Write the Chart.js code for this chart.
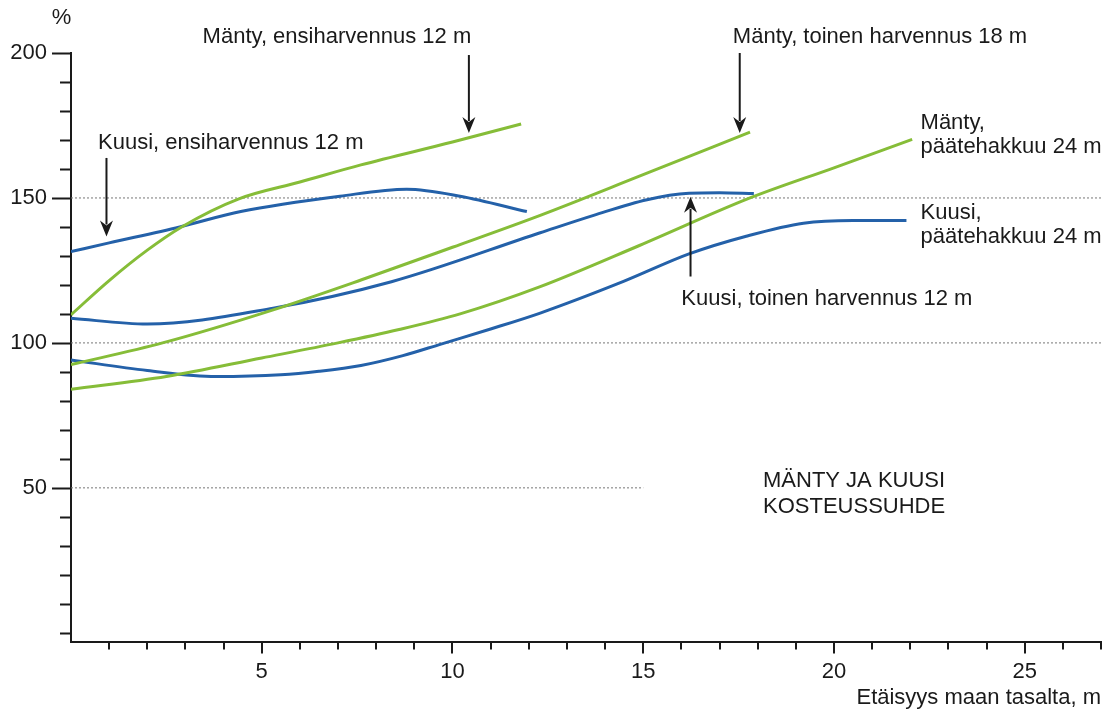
<!DOCTYPE html>
<html>
<head>
<meta charset="utf-8">
<script src="https://cdn.jsdelivr.net/npm/chart.js@4.4.1/dist/chart.umd.min.js"></script>
<style>
  html, body { margin: 0; padding: 0; background: #fff; }
  #wrap { width: 1110px; height: 715px; }
</style>
</head>
<body>
<div id="wrap"><canvas id="chart1"></canvas></div>
<script>
// Etäisyys maan tasalta (m) ja kosteussuhde (%)
const mantyEnsiX = [0, 1, 2, 2.9, 4.4, 6, 7.6, 10, 11.8];
const mantyEnsiY = [109.7, 121.5, 132, 140, 149.7, 155.5, 161.4, 169.3, 175.5];

const kuusiEnsiX = [0, 1, 2.85, 4.45, 7.05, 8.8, 10.2, 11.95];
const kuusiEnsiY = [131.5, 134.5, 140, 145.3, 150.6, 153, 150.6, 145.3];

const mantyToinenX = [0, 2.4, 5.3, 7.6, 10, 12.3, 14.9, 17.8];
const mantyToinenY = [92.5, 100, 111.4, 121.7, 133, 144, 157.5, 172.7];

const kuusiToinenX = [0, 2, 5.3, 8.4, 12.3, 13.7, 15.1, 16.2, 17, 17.9];
const kuusiToinenY = [108.5, 106.5, 112, 121.1, 138, 144, 149.4, 151.6, 151.8, 151.5];

const mantyPaateX = [0, 2.5, 5, 7, 8.6, 10.2, 12.3, 14.9, 17.8, 20, 22.05];
const mantyPaateY = [84, 88.4, 94.8, 100, 104.6, 110, 119.4, 133.6, 150, 160.4, 170.2];

const kuusiPaateX = [0, 2, 3.8, 5.5, 6.5, 7.6, 8.7, 9.7, 11, 12.3, 14.5, 16.2, 17.7, 19.2, 20.5, 21.9];
const kuusiPaateY = [94.1, 90.5, 88.4, 89, 90.2, 92.2, 95.6, 99.6, 104.8, 110.3, 121.3, 130.7, 136.8, 141.3, 142.2, 142.2];

// pisteviivat
const refLevels = [50, 100, 150];
const refEnds = [15, 27, 27];

const xTicks = [];
for (let v = 0; v <= 27; v++) xTicks.push(v);
const xLabelled = [5, 10, 15, 20, 25];
const yTicks = [];
for (let v = 0; v <= 200; v += 10) yTicks.push(v);
const yLabelled = [50, 100, 150, 200];

const GREEN = '#86bd38';
const BLUE = '#2461a9';
const INK = '#1a1a1a';
const FONT = '"Liberation Sans", Arial, Helvetica, sans-serif';

// tekstit ja nuolet datakoordinaateissa
const notes = [
  { text: '%', x: -0.25, y: 212, align: 'center' },
  { text: 'Mänty, ensiharvennus 12 m', x: 3.45, y: 205.5 },
  { text: 'Kuusi, ensiharvennus 12 m', x: 0.71, y: 169 },
  { text: 'Mänty, toinen harvennus 18 m', x: 17.35, y: 205.5 },
  { text: 'Mänty,', x: 22.27, y: 175.9 },
  { text: 'päätehakkuu 24 m', x: 22.27, y: 167.6 },
  { text: 'Kuusi,', x: 22.27, y: 144.8 },
  { text: 'päätehakkuu 24 m', x: 22.27, y: 136.6 },
  { text: 'Kuusi, toinen harvennus 12 m', x: 16.0, y: 115.2 },
  { text: 'MÄNTY JA KUUSI', x: 18.14, y: 52.4 },
  { text: 'KOSTEUSSUHDE', x: 18.14, y: 43.4 }
];
const arrows = [
  { x: 10.43, from: 199.3, to: 172.4 },
  { x: 0.93, from: 163.8, to: 136.7 },
  { x: 17.53, from: 200, to: 172.4 },
  { x: 16.24, from: 122.9, to: 150.4 }
];

const pairs = (xs, ys) => xs.map((x, i) => ({ x, y: ys[i] }));

const curve = (label, xs, ys, color) => ({
  label,
  data: pairs(xs, ys),
  borderColor: color,
  borderWidth: 3,
  cubicInterpolationMode: 'monotone',
  pointRadius: 0,
  fill: false,
  order: 1
});

const refSets = refLevels.map((v, i) => ({
  label: 'ref' + v,
  data: [{ x: 0, y: v }, { x: refEnds[i], y: v }],
  borderColor: '#777',
  borderWidth: 1,
  borderDash: [2, 2],
  pointRadius: 0,
  tension: 0,
  order: 10
}));

const tickMarks = {
  id: 'tickMarks',
  afterDraw(chart) {
    const { ctx, scales: { x, y } } = chart;
    ctx.save();
    ctx.strokeStyle = INK;
    ctx.lineWidth = 2;
    ctx.beginPath();
    yTicks.forEach(v => {
      const py = Math.round(y.getPixelForValue(v)) + 0.5;
      const len = yLabelled.includes(v) ? 19 : 11;
      ctx.moveTo(x.left - len, py);
      ctx.lineTo(x.left, py);
    });
    xTicks.forEach(v => {
      if (v === 0) return;
      const px = Math.round(x.getPixelForValue(v));
      const len = xLabelled.includes(v) ? 12 : 8;
      ctx.moveTo(px, y.bottom);
      ctx.lineTo(px, y.bottom + len);
    });
    ctx.stroke();
    ctx.restore();
  }
};

const notesPlugin = {
  id: 'notes',
  afterDraw(chart) {
    const { ctx, scales: { x, y } } = chart;
    ctx.save();
    ctx.fillStyle = INK;
    ctx.font = '22px ' + FONT;
    ctx.textBaseline = 'middle';
    notes.forEach(n => {
      ctx.textAlign = n.align || 'left';
      ctx.fillText(n.text, x.getPixelForValue(n.x), y.getPixelForValue(n.y));
    });
    ctx.strokeStyle = INK;
    ctx.lineWidth = 2;
    arrows.forEach(a => {
      const px = x.getPixelForValue(a.x);
      const y0 = y.getPixelForValue(a.from);
      const y1 = y.getPixelForValue(a.to);
      const dir = y1 > y0 ? 1 : -1;
      ctx.beginPath();
      ctx.moveTo(px, y0);
      ctx.lineTo(px, y1 - dir * 12);
      ctx.stroke();
      ctx.beginPath();
      ctx.moveTo(px, y1);
      ctx.lineTo(px - 6.5, y1 - dir * 16);
      ctx.lineTo(px, y1 - dir * 11);
      ctx.lineTo(px + 6.5, y1 - dir * 16);
      ctx.closePath();
      ctx.fill();
    });
    ctx.restore();
  }
};

new Chart(document.getElementById('chart1').getContext('2d'), {
  type: 'line',
  data: {
    datasets: [
      ...refSets,
      curve('Mänty, ensiharvennus 12 m', mantyEnsiX, mantyEnsiY, GREEN),
      curve('Kuusi, ensiharvennus 12 m', kuusiEnsiX, kuusiEnsiY, BLUE),
      curve('Mänty, toinen harvennus 18 m', mantyToinenX, mantyToinenY, GREEN),
      curve('Kuusi, toinen harvennus 12 m', kuusiToinenX, kuusiToinenY, BLUE),
      curve('Mänty, päätehakkuu 24 m', mantyPaateX, mantyPaateY, GREEN),
      curve('Kuusi, päätehakkuu 24 m', kuusiPaateX, kuusiPaateY, BLUE)
    ]
  },
  options: {
    responsive: true,
    maintainAspectRatio: false,
    animation: false,
    layout: { padding: { left: 0, top: 53, right: 6, bottom: 0 } },
    plugins: { legend: { display: false }, tooltip: { enabled: false } },
    scales: {
      x: {
        type: 'linear',
        min: 0,
        max: 27,
        afterBuildTicks: s => { s.ticks = xTicks.map(v => ({ value: v })); },
        afterFit: s => { s.height = 73.5; },
        grid: { display: false },
        border: { display: true, color: INK, width: 2 },
        ticks: {
          autoSkip: false,
          maxRotation: 0,
          padding: 9,
          color: INK,
          font: { size: 22, family: FONT },
          callback: v => xLabelled.includes(v) ? String(v) : ''
        },
        title: {
          display: true,
          text: 'Etäisyys maan tasalta, m',
          align: 'end',
          color: INK,
          font: { size: 22, family: FONT },
          padding: { top: 0, bottom: 4 }
        }
      },
      y: {
        min: -3,
        max: 200,
        afterBuildTicks: s => { s.ticks = yTicks.map(v => ({ value: v })); },
        afterFit: s => { s.width = 71; },
        grid: { display: false },
        border: { display: true, color: INK, width: 2 },
        ticks: {
          autoSkip: false,
          padding: 16,
          color: INK,
          font: { size: 22, family: FONT },
          callback: v => yLabelled.includes(v) ? String(v) : ''
        }
      }
    }
  },
  plugins: [tickMarks, notesPlugin]
});
</script>
</body>
</html>
